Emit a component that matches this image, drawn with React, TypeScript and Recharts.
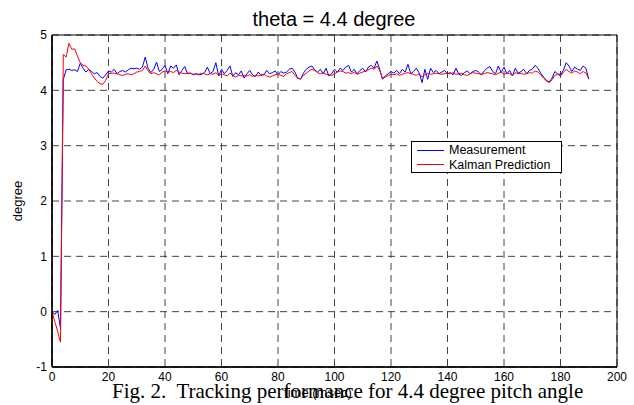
import React from "react";
import {
  LineChart,
  Line,
  XAxis,
  YAxis,
  CartesianGrid,
  ReferenceArea,
  Legend,
} from "recharts";

// Pitch angle samples, one per msec (t = 0 .. 190)
const measurement: number[] = [
  0, -0.05, 0.02, -0.3, 4.2, 4.37, 4.38, 4.36, 4.37, 4.34,
  4.49, 4.4, 4.33, 4.38, 4.34, 4.3, 4.32, 4.25, 4.22, 4.28,
  4.35, 4.33, 4.38, 4.3, 4.34, 4.36, 4.33, 4.37, 4.4, 4.39,
  4.4, 4.38, 4.42, 4.6, 4.4, 4.32, 4.38, 4.51, 4.34, 4.38,
  4.45, 4.3, 4.44, 4.4, 4.46, 4.28, 4.36, 4.43, 4.3, 4.31,
  4.28, 4.3, 4.28, 4.29, 4.32, 4.42, 4.3, 4.34, 4.5, 4.26,
  4.38, 4.3, 4.36, 4.44, 4.25, 4.32, 4.28, 4.35, 4.22, 4.3,
  4.36, 4.28, 4.25, 4.33, 4.27, 4.28, 4.36, 4.3, 4.32, 4.35,
  4.28, 4.34, 4.31, 4.33, 4.38, 4.4, 4.33, 4.22, 4.2, 4.31,
  4.38, 4.42, 4.44, 4.37, 4.33, 4.38, 4.3, 4.4, 4.26, 4.3,
  4.38, 4.33, 4.4, 4.36, 4.42, 4.45, 4.33, 4.38, 4.3, 4.36,
  4.4, 4.33, 4.42, 4.45, 4.4, 4.53, 4.38, 4.2, 4.26, 4.3,
  4.34, 4.31, 4.36, 4.3, 4.38, 4.33, 4.47, 4.3, 4.34, 4.4,
  4.31, 4.14, 4.38, 4.2, 4.4, 4.32, 4.36, 4.3, 4.33, 4.36,
  4.3, 4.32, 4.28, 4.4, 4.29, 4.27, 4.32, 4.35, 4.3, 4.34,
  4.36, 4.33, 4.28, 4.35, 4.4, 4.43, 4.34, 4.3, 4.44, 4.32,
  4.42, 4.3, 4.36, 4.26, 4.4, 4.31, 4.34, 4.38, 4.3, 4.36,
  4.38, 4.45, 4.4, 4.31, 4.24, 4.18, 4.15, 4.22, 4.34, 4.3,
  4.28, 4.36, 4.5, 4.44, 4.34, 4.42, 4.38, 4.36, 4.44, 4.4, 4.2,
];

const kalman: number[] = [
  0, -0.18, -0.36, -0.55, 4.65, 4.6, 4.85, 4.74, 4.75, 4.62,
  4.5, 4.45, 4.44, 4.38, 4.3, 4.22, 4.16, 4.12, 4.11, 4.18,
  4.3, 4.31, 4.31, 4.3, 4.28, 4.27, 4.29, 4.3, 4.28, 4.3,
  4.33, 4.34, 4.36, 4.44, 4.35, 4.3, 4.32, 4.3, 4.28, 4.33,
  4.35, 4.33, 4.34, 4.32, 4.36, 4.33, 4.31, 4.3, 4.31, 4.31,
  4.29, 4.3, 4.29, 4.31, 4.3, 4.28, 4.3, 4.29, 4.32, 4.27,
  4.3, 4.28, 4.26, 4.31, 4.27, 4.24, 4.27, 4.26, 4.27, 4.26,
  4.28, 4.25, 4.27, 4.26, 4.28, 4.29, 4.26, 4.24, 4.26, 4.28,
  4.29, 4.27, 4.25, 4.3, 4.32, 4.34, 4.27, 4.22, 4.21, 4.27,
  4.31, 4.35, 4.38, 4.36, 4.32, 4.3, 4.32, 4.29, 4.28, 4.27,
  4.3, 4.33, 4.35, 4.34, 4.31, 4.32, 4.3, 4.33, 4.29, 4.31,
  4.33, 4.35, 4.37, 4.4, 4.38, 4.44, 4.36, 4.22, 4.24, 4.27,
  4.29, 4.28, 4.3, 4.27, 4.29, 4.31, 4.32, 4.3, 4.29, 4.27,
  4.3, 4.24, 4.28, 4.31, 4.29, 4.3, 4.31, 4.3, 4.29, 4.3,
  4.31, 4.3, 4.32, 4.29, 4.3, 4.31, 4.28, 4.27, 4.3, 4.32,
  4.31, 4.3, 4.29, 4.3, 4.32, 4.31, 4.3, 4.28, 4.31, 4.33,
  4.29, 4.31, 4.3, 4.27, 4.32, 4.3, 4.31, 4.29, 4.3, 4.32,
  4.31, 4.35, 4.33, 4.28, 4.22, 4.17, 4.14, 4.19, 4.27, 4.29,
  4.26, 4.32, 4.38, 4.34, 4.31, 4.35, 4.33, 4.3, 4.34, 4.31, 4.22,
];

const xTicks = [0, 20, 40, 60, 80, 100, 120, 140, 160, 180, 200];
const yTicks = [-1, 0, 1, 2, 3, 4, 5];

const seriesNames = ["Measurement", "Kalman Prediction"];
const seriesColors = ["#0000ff", "#ff0000"];

const data = measurement.map((m, i) => ({ t: i, meas: m, kalman: kalman[i] }));

const sans = "'Liberation Sans', Arial, Helvetica, sans-serif";
const serif = "'Liberation Serif', 'Times New Roman', serif";

const LegendBox = () => (
  <div
    style={{
      width: 151,
      height: 32,
      boxSizing: "border-box",
      border: "1px solid #000",
      background: "#fff",
      fontFamily: sans,
      fontSize: 12.5,
      color: "#000",
      paddingTop: 1,
    }}
  >
    {seriesNames.map((name, i) => (
      <div
        key={name}
        style={{ display: "flex", alignItems: "center", height: 14.5 }}
      >
        <span
          style={{
            display: "inline-block",
            width: 27,
            height: 0,
            borderTop: `1px solid ${seriesColors[i]}`,
            marginLeft: 5,
            marginRight: 5,
          }}
        />
        <span style={{ lineHeight: "14px" }}>{name}</span>
      </div>
    ))}
  </div>
);

export default function App() {
  return (
    <div
      style={{
        position: "absolute",
        left: 0,
        top: 0,
        width: 634,
        height: 405,
        background: "#fff",
        overflow: "hidden",
      }}
    >
      <LineChart
        width={634}
        height={405}
        data={data}
        margin={{ top: 35, right: 17, bottom: 0, left: 0 }}
      >
        <CartesianGrid
          stroke="#444"
          strokeDasharray="7 5"
          strokeWidth={1}
        />
        <XAxis
          dataKey="t"
          type="number"
          domain={[0, 200]}
          ticks={xTicks}
          height={38}
          tickLine={false}
          tickSize={0}
          tickMargin={5}
          axisLine={{ stroke: "#000", strokeWidth: 1.5 }}
          tick={{ fill: "#000", fontSize: 12, fontFamily: sans }}
          allowDataOverflow
        />
        <YAxis
          type="number"
          domain={[-1, 5]}
          ticks={yTicks}
          width={52}
          tickLine={false}
          tickSize={0}
          tickMargin={5}
          axisLine={{ stroke: "#000", strokeWidth: 1.5 }}
          tick={{ fill: "#000", fontSize: 12, fontFamily: sans }}
          allowDataOverflow
        />
        <ReferenceArea
          x1={0}
          x2={200}
          y1={-1}
          y2={5}
          fill="none"
          fillOpacity={0}
          stroke="#000"
          strokeWidth={1}
          ifOverflow="visible"
        />
        <Line
          type="linear"
          dataKey="meas"
          name={seriesNames[0]}
          stroke={seriesColors[0]}
          strokeWidth={1}
          dot={false}
          isAnimationActive={false}
        />
        <Line
          type="linear"
          dataKey="kalman"
          name={seriesNames[1]}
          stroke={seriesColors[1]}
          strokeWidth={1}
          dot={false}
          isAnimationActive={false}
        />
        <Legend
          layout="vertical"
          align="center"
          verticalAlign="middle"
          content={<LegendBox />}
          wrapperStyle={{ left: 411, top: 141, width: 151, height: 32 }}
        />
      </LineChart>
      <svg
        width={634}
        height={405}
        style={{ position: "absolute", left: 0, top: 0, pointerEvents: "none" }}
      >
        <text
          x={334}
          y={26}
          textAnchor="middle"
          fontFamily={sans}
          fontSize={20}
          fill="#000"
        >
          theta = 4.4 degree
        </text>
        <text
          x={0}
          y={0}
          transform="translate(22,201) rotate(-90)"
          textAnchor="middle"
          fontFamily={sans}
          fontSize={13}
          fill="#000"
        >
          degree
        </text>
        <text
          x={318}
          y={397}
          textAnchor="middle"
          fontFamily={sans}
          fontSize={13}
          fill="#000"
        >
          time (msec)
        </text>
        <text x={112} y={398} fontFamily={serif} fontSize={21} fill="#000">
          {"Fig. 2.\u00a0 Tracking performance for 4.4 degree pitch angle"}
        </text>
      </svg>
    </div>
  );
}
